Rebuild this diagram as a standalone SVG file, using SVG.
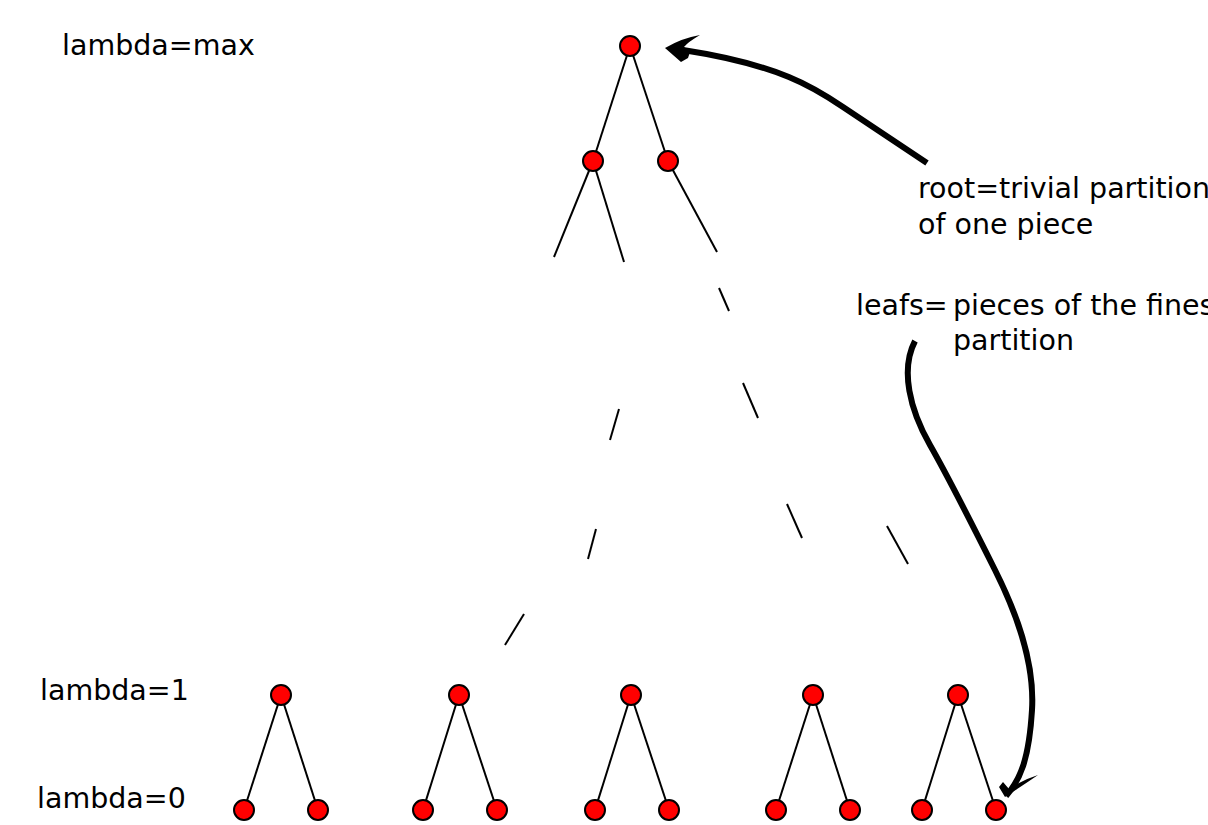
<svg xmlns="http://www.w3.org/2000/svg" width="1208" height="825" viewBox="0 0 1208 825">
<style>
.n{fill:#ff0000;stroke:#000;stroke-width:2}
.e{stroke:#000;stroke-width:2;fill:none}
.t{font-family:"DejaVu Sans",sans-serif;font-size:28.5px;fill:#000}
.a{stroke:#000;stroke-width:6;fill:none;stroke-linecap:butt}
</style>
<rect width="1208" height="825" fill="#fff"/>
<g id="labels">
<text class="t" x="62" y="55">lambda=max</text>
<text class="t" x="40" y="700">lambda=1</text>
<text class="t" x="37" y="808">lambda=0</text>
<text class="t" x="918" y="198">root=trivial partition</text>
<text class="t" x="918" y="234">of one piece</text>
<text class="t" x="856" y="315">leafs=</text>
<text class="t" x="953" y="315">pieces of the finest</text>
<text class="t" x="953" y="350">partition</text>
</g>
<g id="connectors">
<line class="e" x1="630" y1="46" x2="593" y2="161"/>
<line class="e" x1="630" y1="46" x2="668" y2="161"/>
<line class="e" x1="593" y1="161" x2="554" y2="257"/>
<line class="e" x1="593" y1="161" x2="624" y2="262"/>
<line class="e" x1="668" y1="161" x2="717" y2="252"/>
<line class="e" x1="719" y1="288" x2="729" y2="311"/>
<line class="e" x1="743" y1="383" x2="758" y2="418"/>
<line class="e" x1="787" y1="504" x2="802" y2="538"/>
<line class="e" x1="887" y1="526" x2="908" y2="564"/>
<line class="e" x1="619" y1="409" x2="610" y2="440"/>
<line class="e" x1="596" y1="529" x2="588" y2="559"/>
<line class="e" x1="524" y1="614" x2="505" y2="645"/>
<line class="e" x1="281" y1="695" x2="244" y2="810"/>
<line class="e" x1="281" y1="695" x2="318" y2="810"/>
<line class="e" x1="459" y1="695" x2="423" y2="810"/>
<line class="e" x1="459" y1="695" x2="497" y2="810"/>
<line class="e" x1="631" y1="695" x2="595" y2="810"/>
<line class="e" x1="631" y1="695" x2="669" y2="810"/>
<line class="e" x1="813" y1="695" x2="776" y2="810"/>
<line class="e" x1="813" y1="695" x2="850" y2="810"/>
<line class="e" x1="958" y1="695" x2="922" y2="810"/>
<line class="e" x1="958" y1="695" x2="996" y2="810"/>
</g>
<g id="arrow-root">
<path class="a" d="M927,163 C900,145 870,125 843,107 C815,88 780,65 683,50"/>
<path d="M665,48 Q682,38 700,35 Q688,42 684,47 L690,52 L688,58 L681,62 Z" fill="#000"/>
</g>
<g id="arrow-leafs">
<path class="a" d="M915,341 C900,370 910,410 930,445 S975,530 995,570 S1035,660 1032,710 S1020,780 1006,796"/>
<path d="M1005,797 L999,787 L1003,782 L1009,789 Q1022,780 1038,775 Q1022,786 1005,797 Z" fill="#000"/>
</g>
<g id="node-root"><circle class="n" cx="630" cy="46" r="10"/></g>
<g id="node-l1a"><circle class="n" cx="593" cy="161" r="10"/></g>
<g id="node-l1b"><circle class="n" cx="668" cy="161" r="10"/></g>
<g id="node-p1"><circle class="n" cx="281" cy="695" r="10"/></g>
<g id="node-p2"><circle class="n" cx="459" cy="695" r="10"/></g>
<g id="node-p3"><circle class="n" cx="631" cy="695" r="10"/></g>
<g id="node-p4"><circle class="n" cx="813" cy="695" r="10"/></g>
<g id="node-p5"><circle class="n" cx="958" cy="695" r="10"/></g>
<g id="node-leaf1"><circle class="n" cx="244" cy="810" r="10"/></g>
<g id="node-leaf2"><circle class="n" cx="318" cy="810" r="10"/></g>
<g id="node-leaf3"><circle class="n" cx="423" cy="810" r="10"/></g>
<g id="node-leaf4"><circle class="n" cx="497" cy="810" r="10"/></g>
<g id="node-leaf5"><circle class="n" cx="595" cy="810" r="10"/></g>
<g id="node-leaf6"><circle class="n" cx="669" cy="810" r="10"/></g>
<g id="node-leaf7"><circle class="n" cx="776" cy="810" r="10"/></g>
<g id="node-leaf8"><circle class="n" cx="850" cy="810" r="10"/></g>
<g id="node-leaf9"><circle class="n" cx="922" cy="810" r="10"/></g>
<g id="node-leaf10"><circle class="n" cx="996" cy="810" r="10"/></g>
</svg>
